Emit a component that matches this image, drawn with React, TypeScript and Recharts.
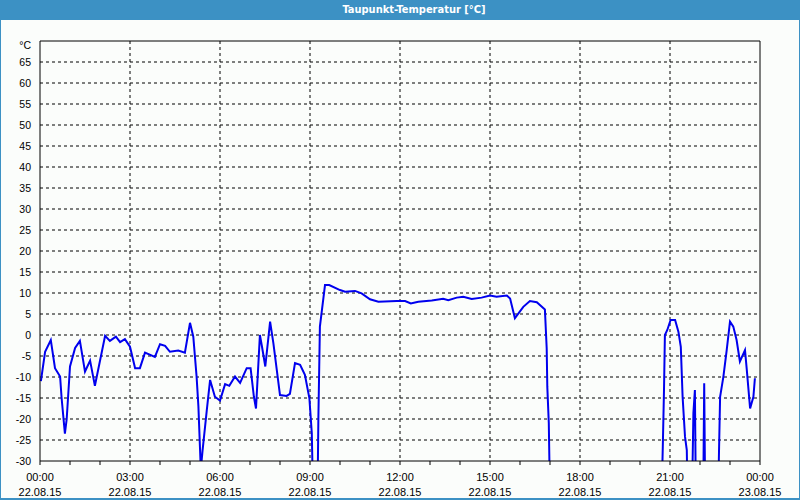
import { LineChart, Line, XAxis, YAxis, CartesianGrid, ReferenceLine } from 'recharts';

// Dew point over one day, hours since 22.08.15 00:00 (values below -30 run off the chart)
const hours = [
  0.03, 0.17, 0.36, 0.5, 0.67, 0.72, 0.83, 0.89, 1.0, 1.17, 1.33, 1.5, 1.67, 1.83, 2.17, 2.33,
  2.53, 2.67, 2.83, 3.0, 3.17, 3.33, 3.5, 3.83, 4.0, 4.17, 4.33, 4.61, 4.83, 5.0, 5.11, 5.22,
  5.28, 5.36, 5.42, 5.56, 5.67, 5.83, 6.0, 6.17, 6.31, 6.5, 6.67, 6.89, 7.02, 7.13, 7.2, 7.33,
  7.4, 7.51, 7.67, 7.78, 8.0, 8.22, 8.33, 8.5, 8.67, 8.83, 8.98, 9.06, 9.12, 9.24, 9.28, 9.33,
  9.5, 9.64, 10.0, 10.17, 10.5, 10.72, 11.0, 11.28, 11.89, 12.17, 12.36, 12.61, 13.06, 13.44,
  13.61, 13.89, 14.11, 14.39, 14.72, 15.0, 15.22, 15.56, 15.67, 15.83, 16.11, 16.33, 16.56,
  16.83, 16.89, 16.91, 16.96, 16.98, 17.05, 20.7, 20.76, 20.8, 20.83, 20.91, 21.02, 21.17,
  21.28, 21.36, 21.42, 21.5, 21.56, 21.6, 21.72, 21.78, 21.83, 21.87, 22.1, 22.14, 22.18,
  22.6, 22.63, 22.67, 22.78, 22.89, 23.0, 23.11, 23.22, 23.33, 23.5, 23.56, 23.67, 23.78, 23.83,
];
const dewPoint = [
  -11, -4, -1.2, -7.9, -9.9, -15, -23.5, -20, -7.5, -3.1, -1.4, -8.7, -6.1, -12.1, -0.2, -1.4,
  -0.4, -1.7, -1.0, -2.8, -7.9, -7.9, -4.2, -5.2, -2.2, -2.6, -4.0, -3.7, -4.2, 2.9, -0.4, -9.9,
  -17, -32, -27.4, -17.9, -10.7, -14.7, -15.6, -11.7, -12.1, -9.9, -11.4, -7.9, -7.9, -14.7, -17.5, 0,
  -2.8, -7.5, 3.2, -2, -14.3, -14.5, -14.0, -6.7, -7.1, -9.5, -15.1, -23.4, -45, -45, -19.4, 2,
  11.9, 11.9, 10.7, 10.3, 10.5, 9.9, 8.5, 7.9, 8.1, 8.1, 7.5, 7.9, 8.2, 8.6,
  8.3, 8.9, 9.1, 8.6, 8.9, 9.4, 9.1, 9.4, 8.7, 4.0, 6.7, 8.1, 7.8,
  6.1, -3.2, -12.3, -21, -30, -45, -45, -26.6, -13.1, 0, 1.2, 3.6, 3.6,
  0.8, -2.8, -14.7, -24.2, -27.4, -45, -45, -18.6, -13.1, -45, -45, -11.5, -45,
  -45, -29, -14.7, -9.9, -3.6, 3.2, 2, -1.2, -6.3, -3.6, -8.3, -17.5, -14.7, -10.3,
];

const hourTicks = [0, 1, 2, 3, 4, 5, 6, 7, 8, 9, 10, 11, 12, 13, 14, 15, 16, 17, 18, 19, 20, 21, 22, 23, 24];
const timeLabels = ['00:00', '03:00', '06:00', '09:00', '12:00', '15:00', '18:00', '21:00', '00:00'];
const dateLabels = ['22.08.15', '22.08.15', '22.08.15', '22.08.15', '22.08.15', '22.08.15', '22.08.15', '22.08.15', '23.08.15'];
const tempTicks = [-30, -25, -20, -15, -10, -5, 0, 5, 10, 15, 20, 25, 30, 35, 40, 45, 50, 55, 60, 65, 70];
const gridTemps = [-25, -20, -15, -10, -5, 0, 5, 10, 15, 20, 25, 30, 35, 40, 45, 50, 55, 60, 65];
const gridHours = [3, 6, 9, 12, 15, 18, 21];

const data = hours.map((h, i) => ({ h, v: dewPoint[i] }));

const FONT = '"Liberation Sans", Arial, sans-serif';

// two-line label under every third hour tick
const HourTick = ({ x, y, payload }: { x?: number; y?: number; payload?: { value: number } }) => {
  const h = payload?.value ?? 0;
  if (h % 3 !== 0) return null;
  const idx = h / 3;
  return (
    <text x={x} y={y} textAnchor="middle" fontFamily={FONT} fontSize={11} fill="#000">
      <tspan x={x} dy={14}>{timeLabels[idx]}</tspan>
      <tspan x={x} dy={15}>{dateLabels[idx]}</tspan>
    </text>
  );
};

const TempTick = ({ x, y, payload }: { x?: number; y?: number; payload?: { value: number } }) => {
  const v = payload?.value ?? 0;
  return (
    <text x={(x ?? 0) - 1} y={(y ?? 0) + (v === 70 ? 8 : 4)} textAnchor="end" fontFamily={FONT} fontSize={10.5} fill="#000">
      {v === 70 ? '°C' : v}
    </text>
  );
};

export default function App() {
  return (
    <div style={{ position: 'absolute', left: 0, top: 0, width: 800, height: 500, background: '#3c91c4' }}>
      <div
        style={{
          position: 'absolute',
          left: 0,
          top: 0,
          width: 828,
          height: 20,
          lineHeight: '20px',
          textAlign: 'center',
          color: '#fff',
          fontFamily: '"DejaVu Sans Condensed", "DejaVu Sans", sans-serif',
          fontWeight: 'bold',
          fontSize: 11,
        }}
      >
        Taupunkt-Temperatur [°C]
      </div>
      <div style={{ position: 'absolute', left: 1, top: 20, width: 798, height: 478, background: '#fbfdfb' }} />
      <div style={{ position: 'absolute', left: 0, top: 0 }}>
        <LineChart width={800} height={500} data={data} margin={{ top: 41, right: 40, left: 0, bottom: 0 }}>
          <CartesianGrid
            stroke="#000"
            strokeDasharray="3 3"
            horizontalValues={gridTemps}
            verticalValues={gridHours}
          />
          <XAxis
            dataKey="h"
            type="number"
            domain={[0, 24]}
            ticks={hourTicks}
            interval={0}
            height={39}
            axisLine={{ stroke: '#000' }}
            tickLine={{ stroke: '#000' }}
            tickSize={4}
            tick={<HourTick />}
          />
          <YAxis
            type="number"
            domain={[-30, 70]}
            ticks={tempTicks}
            interval={0}
            allowDataOverflow
            width={40}
            axisLine={{ stroke: '#000' }}
            tickLine={false}
            tick={<TempTick />}
          />
          <ReferenceLine y={70} stroke="#000" ifOverflow="visible" />
          <ReferenceLine x={24} stroke="#000" ifOverflow="visible" />
          <Line
            type="linear"
            dataKey="v"
            stroke="#0000ee"
            strokeWidth={2}
            dot={false}
            isAnimationActive={false}
          />
        </LineChart>
      </div>
    </div>
  );
}
